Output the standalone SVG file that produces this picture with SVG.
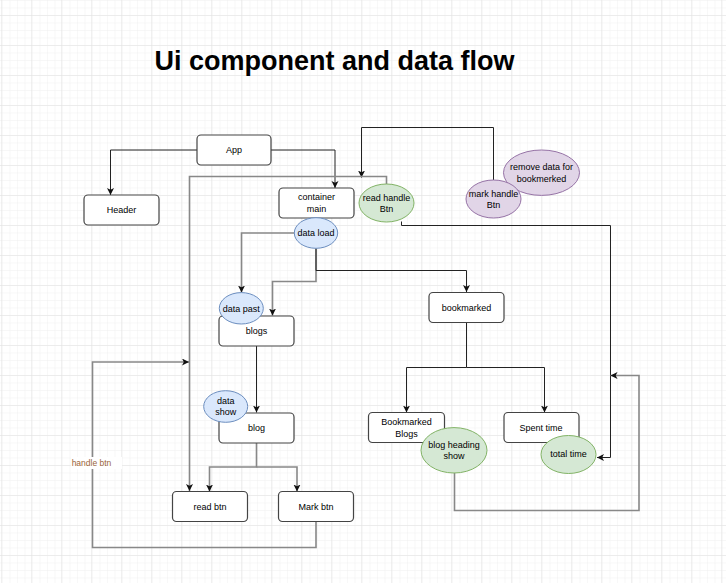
<svg xmlns="http://www.w3.org/2000/svg" width="726" height="583" viewBox="0 0 726 583">
<defs>
<pattern id="minor" x="1" y="15" width="7.5" height="7.5" patternUnits="userSpaceOnUse">
<path d="M0,0 H7.5 M0,0 V7.5" fill="none" stroke="#f0f0f0" stroke-width="1"/>
</pattern>
<pattern id="major" x="1" y="15" width="30" height="30" patternUnits="userSpaceOnUse">
<rect width="30" height="30" fill="url(#minor)"/>
<path d="M0,0 H30 M0,0 V30" fill="none" stroke="#e2e2e2" stroke-width="1"/>
</pattern>
<marker id="arr" markerUnits="userSpaceOnUse" markerWidth="8" markerHeight="8" refX="7" refY="3.5" orient="auto">
<path d="M0,0 L7,3.5 L0,7 L1.8,3.5 z" fill="#111"/>
</marker>
</defs>
<style>
text{font-family:"Liberation Sans",Arial,sans-serif;font-size:9px;fill:#000;text-anchor:middle}
.box{fill:#fff;stroke:#444;stroke-width:1.2}
.blue{fill:#dae8fc;stroke:#6c8ebf;stroke-width:1}
.green{fill:#d5e8d4;stroke:#82b366;stroke-width:1}
.purple{fill:#e1d5e7;stroke:#9673a6;stroke-width:1}
.dk{fill:none;stroke:#222;stroke-width:1;marker-end:url(#arr)}
.gr{fill:none;stroke:#888;stroke-width:1.6;marker-end:url(#arr)}
.title{font-size:27px;font-weight:bold}
</style>
<rect width="726" height="583" fill="#fff"/>
<rect width="726" height="583" fill="url(#major)"/>
<text class="title" x="334.5" y="70">Ui component and data flow</text>
<g id="connectors">
<path class="dk" d="M197,150 H110.5 V195"/>
<path class="dk" d="M271,150 H335 V188"/>
<path class="dk" d="M493.5,180 V127.5 H361.5 V177.5"/>
<path class="gr" d="M386.5,184 V176.5 H189.5 V491"/>
<path class="dk" d="M401.5,221.5 V225.5 H610.5 V457.5 H597"/>
<path class="gr" d="M294.5,233 H241.5 V292.5"/>
<path class="gr" d="M316,248.5 V281.5 H272.5 V315.5"/>
<path class="dk" d="M316,248.5 V270.5 H466.5 V292"/>
<path class="dk" d="M256.5,346 V412.5"/>
<path class="gr" d="M256.5,443 V467 H209.5 V491.5"/>
<path class="gr" d="M256.5,467 H297 V491.5"/>
<path class="gr" d="M316,521.5 V547.5 H92.5 V362 H189"/>
<rect x="71" y="457" width="51" height="12" fill="#fff"/>
<text x="91.5" y="466" style="fill:#9a6438;font-size:8.5px">handle btn</text>
<path class="dk" d="M466.5,322.5 V367.5 H406.5 V412.5"/>
<path class="dk" d="M466.5,367.5 H544.5 V412.5"/>
<path class="gr" d="M454.5,473 V510.5 H639 V375.5 H610.5"/>
</g>
<g id="app"><rect class="box" x="197" y="135" width="74" height="30" rx="4"/><text x="234" y="153">App</text></g>
<g id="header"><rect class="box" x="84" y="195" width="75" height="30" rx="4"/><text x="121.5" y="213">Header</text></g>
<g id="container-main"><rect class="box" x="279" y="188" width="75" height="30" rx="4"/><text x="316.5" y="200">container</text><text x="316.5" y="212">main</text></g>
<g id="read-handle-btn"><ellipse class="green" cx="386.5" cy="203" rx="27.5" ry="19"/><text x="386.5" y="200.5">read handle</text><text x="386.5" y="212">Btn</text></g>
<g id="remove-data"><ellipse class="purple" cx="541.5" cy="172.7" rx="38" ry="22.7"/><text x="541.5" y="170">remove data for</text><text x="541.5" y="182">bookmerked</text></g>
<g id="mark-handle-btn"><ellipse class="purple" cx="493.5" cy="199" rx="27.5" ry="19"/><text x="493.5" y="197">mark handle</text><text x="493.5" y="208">Btn</text></g>
<g id="data-load"><ellipse class="blue" cx="316" cy="233" rx="21.7" ry="15.3"/><text x="316" y="236">data load</text></g>
<g id="blogs"><rect class="box" x="219" y="316" width="75" height="30" rx="4"/><text x="256.5" y="333.5">blogs</text></g>
<g id="data-past"><ellipse class="blue" cx="241.3" cy="308.3" rx="22" ry="15.7"/><text x="241.3" y="311.5">data past</text></g>
<g id="bookmarked"><rect class="box" x="429" y="292.5" width="75" height="30" rx="4"/><text x="466.5" y="311">bookmarked</text></g>
<g id="blog"><rect class="box" x="219" y="413" width="75" height="30" rx="4"/><text x="256.5" y="431">blog</text></g>
<g id="data-show"><ellipse class="blue" cx="225.7" cy="406.5" rx="22" ry="15.8"/><text x="225.7" y="404">data</text><text x="225.7" y="414.5">show</text></g>
<g id="read-btn"><rect class="box" x="172.5" y="491.5" width="75" height="30" rx="4"/><text x="210" y="509.5">read btn</text></g>
<g id="mark-btn"><rect class="box" x="278.5" y="491.5" width="75" height="30" rx="4"/><text x="316" y="509.5">Mark btn</text></g>
<g id="bookmarked-blogs"><rect class="box" x="368.5" y="412.5" width="76" height="30" rx="4"/><text x="406.5" y="425">Bookmarked</text><text x="406.5" y="436.5">Blogs</text></g>
<g id="blog-heading-show"><ellipse class="green" cx="454" cy="450.3" rx="33" ry="22.7"/><text x="454" y="448">blog heading</text><text x="454" y="459">show</text></g>
<g id="spent-time"><rect class="box" x="504" y="412.5" width="75" height="30" rx="4"/><text x="541" y="431">Spent time</text></g>
<g id="total-time"><ellipse class="green" cx="568.5" cy="454.5" rx="27.5" ry="19"/><text x="568.5" y="457">total time</text></g>
</svg>
